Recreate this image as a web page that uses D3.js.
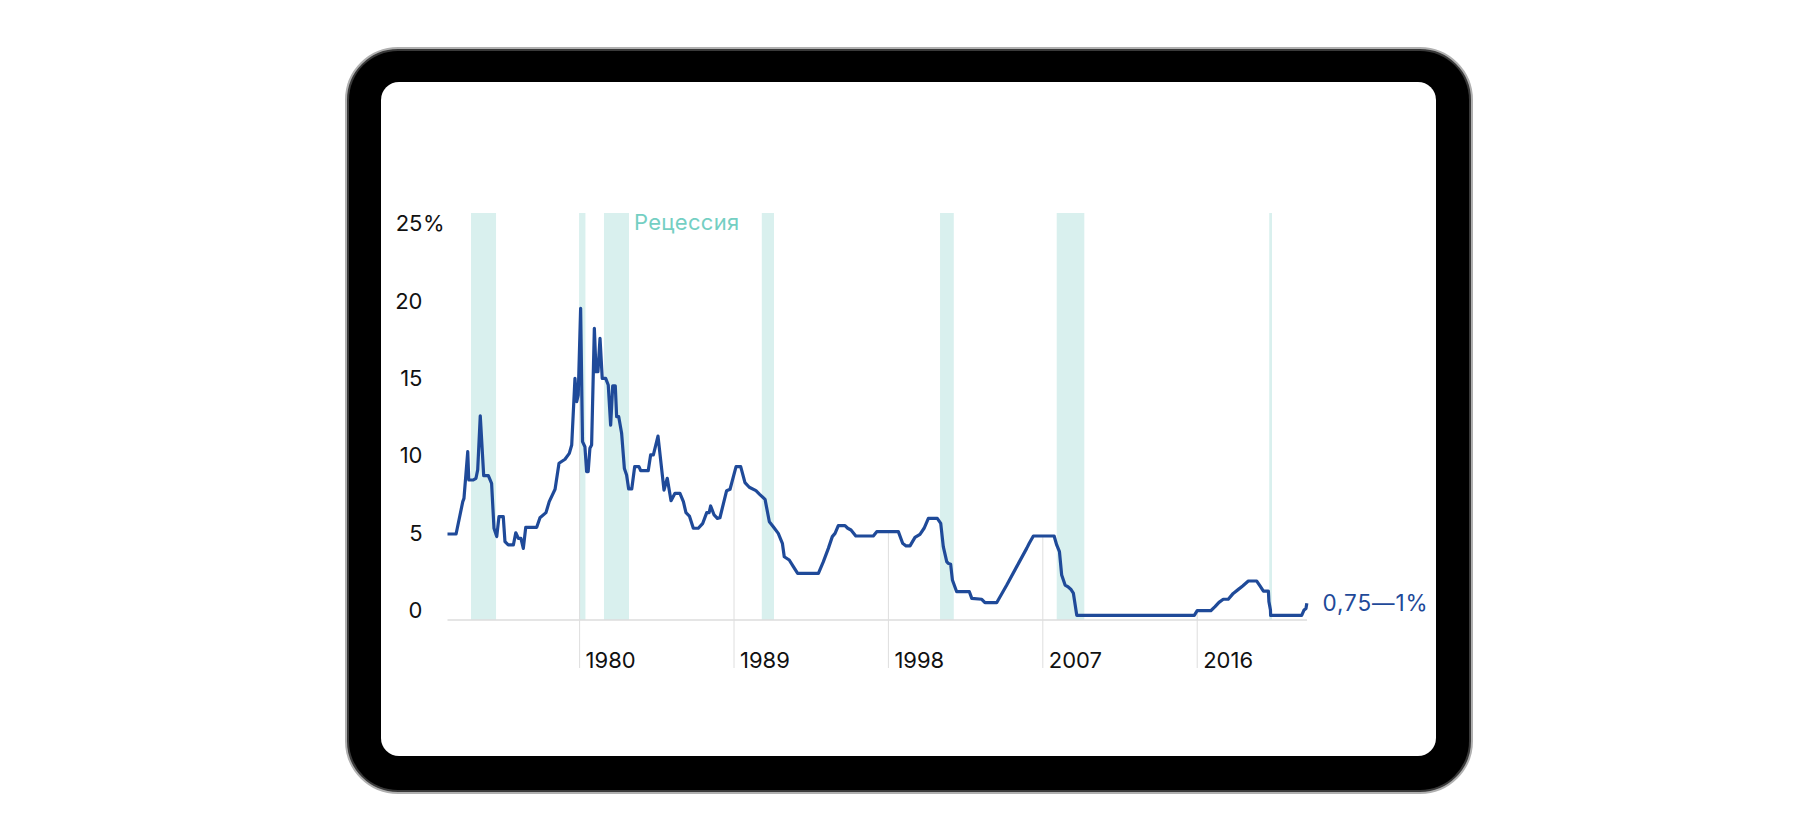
<!DOCTYPE html>
<html>
<head>
<meta charset="utf-8">
<script src="https://cdn.jsdelivr.net/npm/d3@7/dist/d3.min.js"></script>
<style>
  html, body { margin: 0; padding: 0; background: #fff; }
  svg { display: block; }
  text { font-family: Inter, "Noto Sans", sans-serif; }
</style>
</head>
<body>
<svg id="chart" width="1820" height="840"></svg>
<script>
// ---- data ----
const years = [
  1972.3, 1972.8, 1973.19, 1973.26, 1973.48, 1973.54, 1973.8, 1973.96, 1974.06, 1974.21,
  1974.41, 1974.68, 1974.87, 1975.01, 1975.17, 1975.3, 1975.55, 1975.65, 1975.84, 1976.14,
  1976.28, 1976.43, 1976.58, 1976.72, 1976.86, 1977.5, 1977.69, 1978.04, 1978.23, 1978.57,
  1978.8, 1979.15, 1979.4, 1979.54, 1979.73, 1979.83, 1979.92, 1980.06, 1980.17, 1980.31,
  1980.41, 1980.5, 1980.6, 1980.7, 1980.86, 1980.96, 1981.07, 1981.19, 1981.32, 1981.52,
  1981.67, 1981.81, 1981.93, 1982.08, 1982.16, 1982.28, 1982.45, 1982.61, 1982.74, 1982.86,
  1983.04, 1983.21, 1983.46, 1983.56, 1984.0, 1984.14, 1984.3, 1984.57, 1984.92, 1985.11,
  1985.33, 1985.56, 1985.85, 1986.05, 1986.2, 1986.4, 1986.63, 1986.92, 1987.18, 1987.41,
  1987.55, 1987.64, 1987.84, 1988.03, 1988.18, 1988.57, 1988.77, 1989.12, 1989.39, 1989.64,
  1989.89, 1990.28, 1990.48, 1990.81, 1991.06, 1991.29, 1991.58, 1991.82, 1991.93, 1992.22,
  1992.46, 1992.71, 1993.92, 1994.21, 1994.5, 1994.73, 1994.89, 1995.08, 1995.47, 1995.63,
  1995.82, 1996.1, 1997.12, 1997.32, 1998.58, 1998.83, 1999.03, 1999.26, 1999.55, 1999.84,
  2000.08, 2000.33, 2000.85, 2001.05, 2001.2, 2001.4, 2001.49, 2001.63, 2001.73, 2001.98,
  2002.72, 2002.86, 2003.44, 2003.63, 2004.31, 2004.9, 2005.48, 2006.06, 2006.21, 2006.45,
  2007.66, 2007.81, 2007.97, 2008.1, 2008.3, 2008.45, 2008.63, 2008.78, 2008.98, 2015.83,
  2016.0, 2016.79, 2017.04, 2017.27, 2017.52, 2017.81, 2018.1, 2018.4, 2018.65, 2018.98,
  2019.47, 2019.66, 2019.86, 2020.15, 2020.18, 2020.27, 2020.28, 2022.09, 2022.23, 2022.34,
  2022.39
];
const rates = [
  5.56, 5.56, 7.65, 7.86, 10.88, 9.05, 9.05, 9.16, 9.70, 13.19,
  9.33, 9.33, 8.83, 5.93, 5.39, 6.68, 6.68, 5.06, 4.85, 4.85,
  5.64, 5.28, 5.28, 4.63, 5.99, 5.99, 6.61, 6.94, 7.65, 8.45,
  10.13, 10.39, 10.77, 11.31, 15.62, 14.11, 14.54, 20.15, 11.53, 11.2,
  9.59, 9.59, 11.1, 11.31, 18.85, 16.05, 16.05, 18.21, 15.62, 15.62,
  15.19, 12.6, 15.13, 15.13, 13.14, 13.14, 12.07, 9.8, 9.37, 8.47,
  8.47, 9.91, 9.91, 9.65, 9.65, 10.67, 10.67, 11.89, 8.4, 9.16,
  7.71, 8.19, 8.19, 7.65, 6.94, 6.72, 5.93, 5.93, 6.25, 6.94,
  6.94, 7.37, 6.79, 6.57, 6.61, 8.36, 8.45, 9.91, 9.91, 8.88,
  8.58, 8.36, 8.14, 7.8, 6.35, 6.03, 5.6, 4.96, 4.09, 3.88,
  3.45, 3.02, 3.02, 3.77, 4.63, 5.39, 5.6, 6.1, 6.1, 5.93,
  5.82, 5.43, 5.43, 5.71, 5.71, 4.96, 4.79, 4.79, 5.34, 5.54,
  5.93, 6.57, 6.57, 6.25, 4.74, 3.77, 3.66, 3.6, 2.59, 1.83,
  1.83, 1.4, 1.34, 1.12, 1.12, 2.26, 3.45, 4.63, 4.96, 5.43,
  5.43, 4.85, 4.42, 2.91, 2.26, 2.16, 1.99, 1.74, 0.3, 0.3,
  0.6, 0.6, 0.86, 1.14, 1.34, 1.34, 1.72, 1.98, 2.2, 2.52,
  2.52, 2.2, 1.87, 1.87, 1.19, 0.65, 0.3, 0.3, 0.65, 0.75,
  1.08
];
const recessionStart = [1973.67, 1979.97, 1981.42, 1990.62, 2001.01, 2007.81, 2020.2];
const recessionEnd   = [1975.13, 1980.34, 1982.88, 1991.33, 2001.81, 2009.42, 2020.36];
const xTickYears = [1980, 1989, 1998, 2007, 2016];
const yTickValues = [0, 5, 10, 15, 20, 25];
const recessionLabel = "Рецессия";
const lastLabel = "0,75—1%";

// ---- drawing ----
const svg = d3.select("#chart");
const data = d3.zip(years, rates).map(([t, v]) => ({ t, v }));

// tablet frame
svg.append("rect").attr("x", 346).attr("y", 48).attr("width", 1126).attr("height", 745)
  .attr("rx", 52).attr("fill", "#3a3a3a").attr("stroke", "#b0b0b0").attr("stroke-width", 2);
svg.append("rect").attr("x", 349).attr("y", 51).attr("width", 1120).attr("height", 739)
  .attr("rx", 49).attr("fill", "#000");
svg.append("rect").attr("x", 381).attr("y", 82).attr("width", 1055).attr("height", 674)
  .attr("rx", 18).attr("fill", "#fff");

const x = d3.scaleLinear().domain([1972.3, 2022.4]).range([447.5, 1307]);
const y = d3.scaleLinear().domain([0, 25]).range([620, 233.25]);
const bandTop = 213;

// recession bands
svg.append("g").selectAll("rect")
  .data(d3.zip(recessionStart, recessionEnd))
  .join("rect")
  .attr("x", d => x(d[0]))
  .attr("width", d => Math.max(1.5, x(d[1]) - x(d[0])))
  .attr("y", bandTop)
  .attr("height", y(0) - bandTop)
  .attr("fill", "#d9f0ee");

svg.append("text")
  .attr("x", 634).attr("y", 230)
  .attr("font-size", 22)
  .attr("letter-spacing", 0.3)
  .attr("fill", "#74cfc3")
  .text(recessionLabel);

// value at a year (interpolated along the drawn line)
const bis = d3.bisector(d => d.t).left;
function valueAt(t) {
  const i = bis(data, t);
  if (i <= 0) return data[0].v;
  if (i >= data.length) return data[data.length - 1].v;
  const a = data[i - 1], b = data[i];
  return a.v + (b.v - a.v) * (t - a.t) / (b.t - a.t);
}

// baseline axis
svg.append("line")
  .attr("x1", x.range()[0]).attr("x2", x.range()[1])
  .attr("y1", y(0)).attr("y2", y(0))
  .attr("stroke", "#dcdcdc").attr("stroke-width", 1.5);

// x ticks: drop lines + labels
const xg = svg.append("g");
xg.selectAll("line").data(xTickYears).join("line")
  .attr("x1", d => x(d)).attr("x2", d => x(d))
  .attr("y1", d => y(valueAt(d))).attr("y2", 668)
  .attr("stroke", "#dedede").attr("stroke-width", 1);
xg.selectAll("text").data(xTickYears).join("text")
  .attr("x", d => x(d) + 6).attr("y", 668)
  .attr("font-size", 22).attr("fill", "#111")
  .text(d => d);

// y labels
const yg = svg.append("g");
yg.selectAll("text.num").data(yTickValues).join("text")
  .attr("class", "num")
  .attr("x", 422.5).attr("y", d => y(d) - 2)
  .attr("text-anchor", "end")
  .attr("font-size", 22).attr("fill", "#111")
  .text(d => d);
yg.append("text")
  .attr("x", 423).attr("y", y(25) - 2)
  .attr("font-size", 22).attr("fill", "#111")
  .text("%");

// the line
const line = d3.line().x(d => x(d.t)).y(d => y(d.v));
svg.append("path")
  .datum(data)
  .attr("d", line)
  .attr("fill", "none")
  .attr("stroke", "#1f4a99")
  .attr("stroke-width", 3.2)
  .attr("stroke-linejoin", "round");

svg.append("text")
  .attr("x", 1322.5).attr("y", 610.5)
  .attr("font-size", 22.5)
  .attr("letter-spacing", 0.9)
  .attr("fill", "#1f4a99")
  .text(lastLabel);
</script>
</body>
</html>
